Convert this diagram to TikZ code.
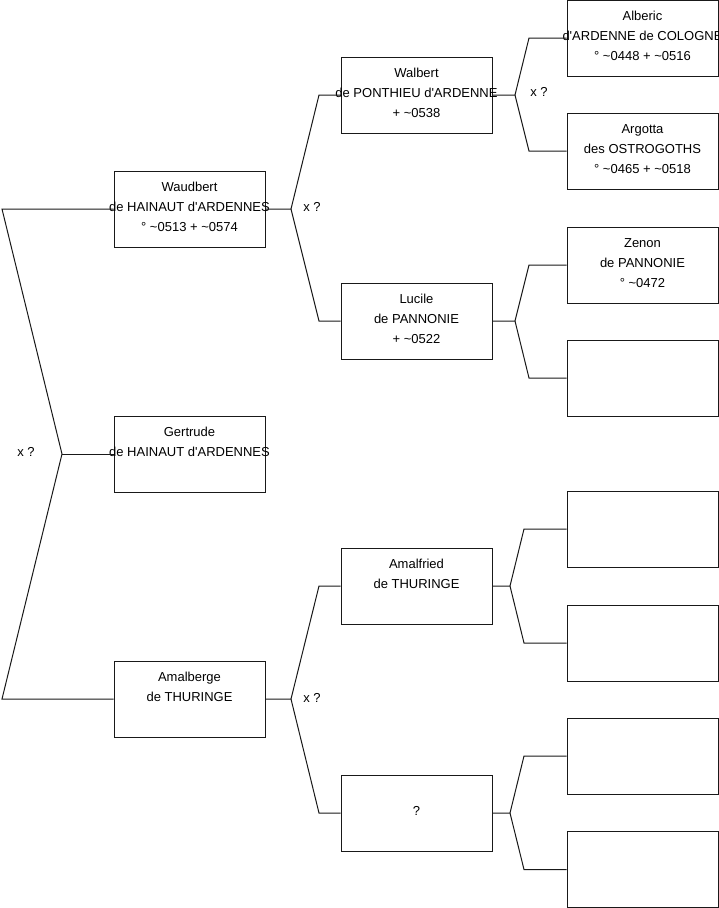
\documentclass[tikz,border=0pt]{standalone}
\usepackage{fontspec}
\newfontfamily\arialf{Liberation Sans}
\newcommand{\tl}{\textasciitilde}
\newcommand{\qs}{\textquotesingle}
\begin{document}
\begin{tikzpicture}[x=1pt,y=-1pt,
  pbox/.style={draw=black!90,line width=0.9pt,minimum width=151pt,minimum height=76pt,inner sep=0pt},
  ptext/.style={align=center,inner sep=0pt,yshift=1.5pt,font=\arialf\fontsize{13}{20}\selectfont},
  conn/.style={draw=black!90,line width=1pt},
  xq/.style={inner sep=0pt,font=\arialf\fontsize{13}{16}\selectfont}]
\useasboundingbox (0,0) rectangle (719,908);
\clip (0,0) rectangle (719,908);
% level 1
\node[pbox] (waud) at (189.5,209) {};
\node[pbox] (gert) at (189.5,454) {};
\node[pbox] (amal) at (189.5,699) {};
% level 2
\node[pbox] (walb) at (416.5,95) {};
\node[pbox] (luc) at (416.5,321) {};
\node[pbox] (amf) at (416.5,586) {};
\node[pbox] (unk) at (416.5,813) {};
% level 3
\node[pbox] (alb) at (642.5,38) {};
\node[pbox] (arg) at (642.5,151) {};
\node[pbox] (zen) at (642.5,265) {};
\node[pbox] (e1) at (642.5,378) {};
\node[pbox] (e2) at (642.5,529) {};
\node[pbox] (e3) at (642.5,643) {};
\node[pbox] (e4) at (642.5,756) {};
\node[pbox] (e5) at (642.5,869.5) {};
% texts
\node[ptext] (waudT) at (waud) {\strut Waudbert\\\strut de HAINAUT d\qs ARDENNES\\\strut °\ \tl 0513 + \tl 0574};
\node[ptext] (gertT) at (gert) {\strut Gertrude\\\strut de HAINAUT d\qs ARDENNES\\\strut};
\node[ptext] (amalT) at (amal) {\strut Amalberge\\\strut de THURINGE\\\strut};
\node[ptext] (walbT) at (walb) {\strut Walbert\\\strut de PONTHIEU d\qs ARDENNE\\\strut + \tl 0538};
\node[ptext] (lucT) at (luc) {\strut Lucile\\\strut de PANNONIE\\\strut + \tl 0522};
\node[ptext] (amfT) at (amf) {\strut Amalfried\\\strut de THURINGE\\\strut};
\node[ptext] (unkT) at (unk) {\strut\\\strut ?\\\strut};
\node[ptext] (albT) at (alb) {\strut Alberic\\\strut d\qs ARDENNE de COLOGNE\\\strut °\ \tl 0448 + \tl 0516};
\node[ptext] (argT) at (arg) {\strut Argotta\\\strut des OSTROGOTHS\\\strut °\ \tl 0465 + \tl 0518};
\node[ptext] (zenT) at (zen) {\strut Zenon\\\strut de PANNONIE\\\strut °\ \tl 0472};
% junction coordinates
\coordinate (j0) at (62,454);  \coordinate (c0a) at (2,209);   \coordinate (c0b) at (2,699);
\coordinate (j1) at (291,209); \coordinate (c1a) at (319,95);  \coordinate (c1b) at (319,321);
\coordinate (j2) at (515,95);  \coordinate (c2a) at (529,38);  \coordinate (c2b) at (529,151);
\coordinate (j3) at (515,321); \coordinate (c3a) at (529,265); \coordinate (c3b) at (529,378);
\coordinate (j4) at (291,699); \coordinate (c4a) at (319,586); \coordinate (c4b) at (319,813);
\coordinate (j5) at (510,586); \coordinate (c5a) at (524,529); \coordinate (c5b) at (524,643);
\coordinate (j6) at (510,813); \coordinate (c6a) at (524,756); \coordinate (c6b) at (524,869.5);
% connectors
\draw[conn] (waud.west) -- (c0a) -- (j0) -- (c0b) -- (amal.west);
\draw[conn] (j0) -- (gert.west);
\draw[conn] (waud.east) -- (j1) -- (c1a) -- (walb.west);
\draw[conn] (j1) -- (c1b) -- (luc.west);
\draw[conn] (walb.east) -- (j2) -- (c2a) -- (alb.west);
\draw[conn] (j2) -- (c2b) -- (arg.west);
\draw[conn] (luc.east) -- (j3) -- (c3a) -- (zen.west);
\draw[conn] (j3) -- (c3b) -- (e1.west);
\draw[conn] (amal.east) -- (j4) -- (c4a) -- (amf.west);
\draw[conn] (j4) -- (c4b) -- (unk.west);
\draw[conn] (amf.east) -- (j5) -- (c5a) -- (e2.west);
\draw[conn] (j5) -- (c5b) -- (e3.west);
\draw[conn] (unk.east) -- (j6) -- (c6a) -- (e4.west);
\draw[conn] (j6) -- (c6b) -- (e5.west);
% labels
\node[xq] (x0) at (26,452) {x ?};
\node[xq] (x1) at (312,207) {x ?};
\node[xq] (x2) at (539,92) {x ?};
\node[xq] (x4) at (312,698) {x ?};
\end{tikzpicture}
\end{document}
